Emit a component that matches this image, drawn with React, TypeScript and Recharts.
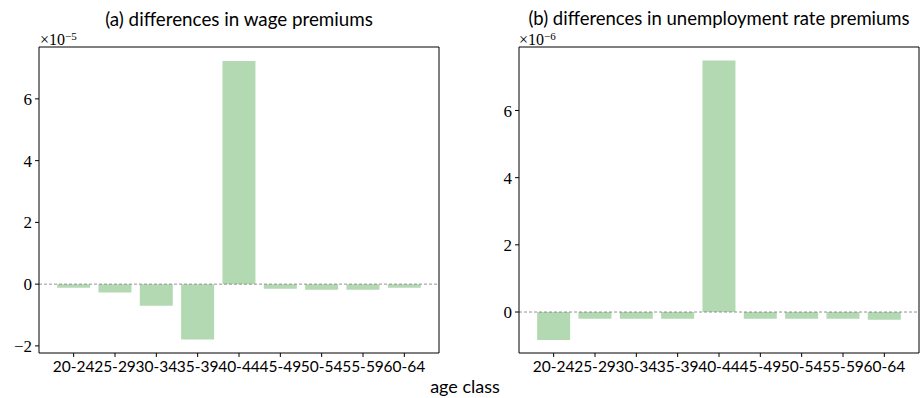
import { BarChart, Bar, XAxis, YAxis, ReferenceLine, CartesianGrid } from 'recharts';

const ageClasses = ['20-24', '25-29', '30-34', '35-39', '40-44', '45-49', '50-54', '55-59', '60-64'];
// values in units of 1e-5
const wageDiff = [-0.12, -0.27, -0.7, -1.79, 7.23, -0.15, -0.18, -0.18, -0.12];
// values in units of 1e-6
const unempDiff = [-0.83, -0.2, -0.2, -0.2, 7.49, -0.2, -0.2, -0.2, -0.23];
const wageTicks = [-2, 0, 2, 4, 6];
const unempTicks = [0, 2, 4, 6];

const BAR_COLOR = '#b3d9b3';
const SANS = 'Lato, "Open Sans", sans-serif';
const SERIF = '"Liberation Serif", "DejaVu Serif", serif';

const fmt = (v: number) => (v < 0 ? `\u2212${Math.abs(v)}` : `${v}`);

interface PanelProps {
  values: number[];
  ticks: number[];
  domain: [number, number];
  yAxisWidth: number;
  width: number;
  rightMargin: number;
}

function Panel({ values, ticks, domain, yAxisWidth, width, rightMargin }: PanelProps) {
  const data = ageClasses.map((age, i) => ({ age, value: values[i] }));
  return (
    <BarChart
      width={width}
      height={398}
      data={data}
      margin={{ top: 47, right: rightMargin, bottom: 15, left: 0 }}
      barCategoryGap="10%"
    >
      {/* top and right edges of the frame */}
      <CartesianGrid
        stroke="#000"
        strokeWidth={1}
        horizontalCoordinatesGenerator={({ offset }: any) => [offset.top]}
        verticalCoordinatesGenerator={({ offset }: any) => [offset.left + offset.width]}
      />
      <XAxis
        dataKey="age"
        height={30}
        interval={0}
        padding={{ left: 14, right: 14 }}
        tickSize={4}
        tickMargin={4}
        axisLine={{ stroke: '#000' }}
        tickLine={{ stroke: '#000' }}
        tick={{ fill: '#000', fontSize: 15.5, fontFamily: SANS }}
      />
      <YAxis
        type="number"
        domain={domain}
        ticks={ticks}
        width={yAxisWidth}
        allowDataOverflow
        tickSize={4}
        tickMargin={3}
        tickFormatter={fmt}
        axisLine={{ stroke: '#000' }}
        tickLine={{ stroke: '#000' }}
        tick={{ fill: '#000', fontSize: 17, fontFamily: SERIF }}
      />
      <Bar dataKey="value" fill={BAR_COLOR} isAnimationActive={false} />
      <ReferenceLine y={0} stroke="#777" strokeWidth={0.8} strokeDasharray="3 2" />
    </BarChart>
  );
}

function Offset({ left, exp }: { left: number; exp: string }) {
  return (
    <div style={{ position: 'absolute', left, top: 33, fontFamily: SERIF, fontSize: 16, lineHeight: '13px', whiteSpace: 'nowrap' }}>
      ×10
      <span style={{ position: 'relative', top: -5, fontSize: 11, lineHeight: '10px' }}>{exp}</span>
    </div>
  );
}

export default function App() {
  return (
    <div style={{ position: 'relative', width: 921, height: 398, background: '#fff', fontFamily: SANS, color: '#000' }}>
      <style>{'body{margin:0}'}</style>
      <div style={{ position: 'absolute', left: 0, top: 0 }}>
        <Panel values={wageDiff} ticks={wageTicks} domain={[-2.23, 7.68]} yAxisWidth={39} width={460} rightMargin={21} />
      </div>
      <div style={{ position: 'absolute', left: 460, top: 0 }}>
        <Panel values={unempDiff} ticks={unempTicks} domain={[-1.22, 7.89]} yAxisWidth={59} width={461} rightMargin={2} />
      </div>
      <div style={{ position: 'absolute', left: 19, width: 440, top: 10, textAlign: 'center', fontSize: 18.8, lineHeight: '17px' }}>
        (a) differences in wage premiums
      </div>
      <div style={{ position: 'absolute', left: 499, width: 440, top: 10, textAlign: 'center', fontSize: 18.5, lineHeight: '17px' }}>
        (b) differences in unemployment rate premiums
      </div>
      <Offset left={40} exp="−5" />
      <Offset left={519} exp="−6" />
      <div style={{ position: 'absolute', left: 365, width: 200, top: 376, textAlign: 'center', fontSize: 18, lineHeight: '20px' }}>
        age class
      </div>
    </div>
  );
}
